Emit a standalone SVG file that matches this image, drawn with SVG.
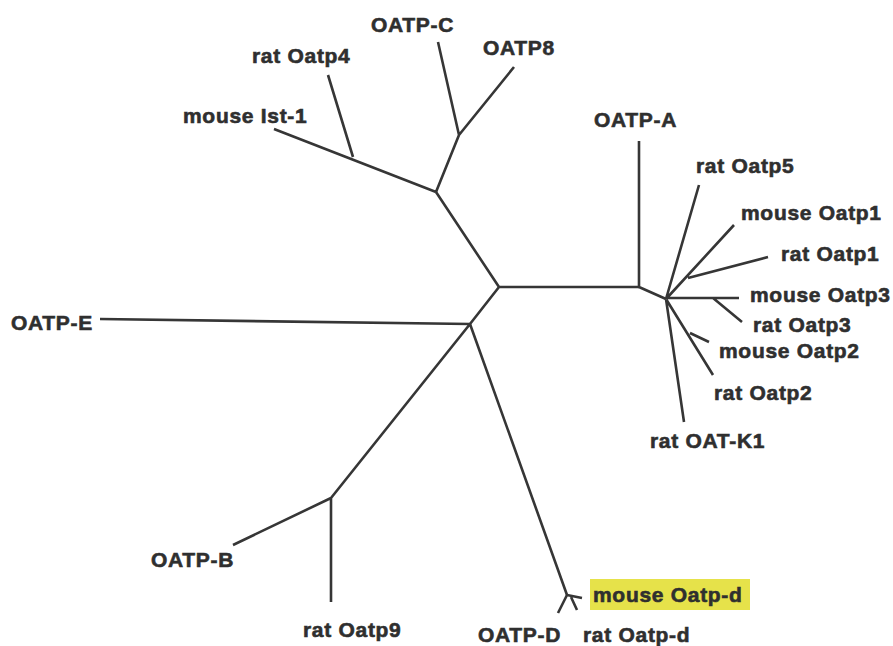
<svg xmlns="http://www.w3.org/2000/svg" width="893" height="646" viewBox="0 0 893 646">
<style>
.e{stroke:#363636;stroke-width:2.6;fill:none;stroke-linecap:butt;stroke-linejoin:round}
text{font-family:"Liberation Sans",Arial,sans-serif;font-weight:bold;font-size:21px;fill:#2f2f2f;stroke:#2f2f2f;stroke-width:0.6px;letter-spacing:0.7px}
</style>
<rect width="893" height="646" fill="#fff"/>
<g id="connectors" class="e">
<path d="M436,192 L499,287 L639,287 M499,287 L470,324"/>
<path d="M274,129 L436,192 M328,75 L353,157 M436,192 L459,135 M459,135 L438,42 M459,135 L514,67"/>
<path d="M639,141 L639,287 L666,299"/>
<path d="M666,299 L699,185 M666,299 L734,225 M688,278 L768,257 M666,298 L739,298 M713,298 L742,322 M666,299 L713,375 M690,333 L709,342 M666,299 L684,422"/>
<path d="M100,319 L470,324 M470,324 L331,498 M331,498 L233,545 M331,498 L331,602 M470,324 L567,595"/>
<path d="M567,595 L558,613 M567,595 L582,598 M571,597 L577,610"/>
</g>
<g id="n-oatpA"><text x="594" y="127">OATP-A</text></g>
<g id="n-ratOatp5"><text x="696" y="173">rat Oatp5</text></g>
<g id="n-mouseOatp1"><text x="741" y="220">mouse Oatp1</text></g>
<g id="n-ratOatp1"><text x="781" y="261">rat Oatp1</text></g>
<g id="n-mouseOatp3"><text x="750" y="302">mouse Oatp3</text></g>
<g id="n-ratOatp3"><text x="753" y="332">rat Oatp3</text></g>
<g id="n-mouseOatp2"><text x="719" y="358">mouse Oatp2</text></g>
<g id="n-ratOatp2"><text x="714" y="400">rat Oatp2</text></g>
<g id="n-ratOATK1"><text x="650" y="448">rat OAT-K1</text></g>
<g id="n-oatpC"><text x="371" y="32">OATP-C</text></g>
<g id="n-oatp8"><text x="483" y="55">OATP8</text></g>
<g id="n-ratOatp4"><text x="252" y="63">rat Oatp4</text></g>
<g id="n-mouseIst1"><text x="183" y="123">mouse Ist-1</text></g>
<g id="n-oatpE"><text x="11" y="330">OATP-E</text></g>
<g id="n-oatpB"><text x="151" y="567">OATP-B</text></g>
<g id="n-ratOatp9"><text x="303" y="637">rat Oatp9</text></g>
<g id="n-mouseOatpd"><rect x="590" y="579" width="160" height="31" fill="#e6e24a"/><text x="593" y="602">mouse Oatp-d</text></g>
<g id="n-oatpD"><text x="478" y="642">OATP-D</text></g>
<g id="n-ratOatpd"><text x="583" y="642">rat Oatp-d</text></g>
</svg>
